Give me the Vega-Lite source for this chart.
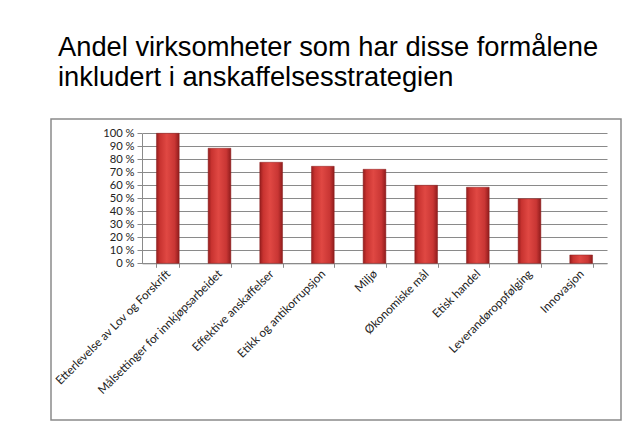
{
  "$schema": "https://vega.github.io/schema/vega-lite/v6.json",
  "width": 570,
  "height": 301,
  "autosize": {"type": "none"},
  "padding": {"left": 51, "top": 119, "right": 4, "bottom": 2},
  "background": "white",
  "title": {
    "text": ["Andel virksomheter som har disse formålene", "inkludert i anskaffelsesstrategien"],
    "font": "Liberation Sans",
    "fontSize": 27.3,
    "fontWeight": "normal",
    "color": "#000000",
    "anchor": "start",
    "frame": "group",
    "dx": 7,
    "lineHeight": 30,
    "offset": 28
  },
  "config": {
    "view": {"stroke": "#8a8a8a", "strokeWidth": 1.5},
    "font": "Lato"
  },
  "data": {
    "values": [
      {"formaal": "Etterlevelse av Lov og Forskrift", "andel": 100},
      {"formaal": "Målsettinger for innkjøpsarbeidet", "andel": 88.5},
      {"formaal": "Effektive anskaffelser", "andel": 77.7},
      {"formaal": "Etikk og antikorrupsjon", "andel": 74.6},
      {"formaal": "Miljø", "andel": 72.3},
      {"formaal": "Økonomiske mål", "andel": 60},
      {"formaal": "Etisk handel", "andel": 58.5},
      {"formaal": "Leverandøroppfølging", "andel": 49.7},
      {"formaal": "Innovasjon", "andel": 6.4}
    ]
  },
  "mark": {
    "type": "bar",
    "color": {
      "gradient": "linear",
      "x1": 0, "x2": 1, "y1": 0, "y2": 0,
      "stops": [
        {"offset": 0, "color": "#951d1d"},
        {"offset": 0.15, "color": "#c83330"},
        {"offset": 0.45, "color": "#e04843"},
        {"offset": 0.8, "color": "#c93634"},
        {"offset": 1, "color": "#901c1c"}
      ]
    },
    "stroke": "#8a1e1e",
    "strokeWidth": 0.5
  },
  "encoding": {
    "x": {
      "field": "formaal",
      "type": "nominal",
      "sort": null,
      "title": null,
      "scale": {"range": [91, 556], "paddingInner": 0.56, "paddingOuter": 0.28},
      "axis": {
        "offset": -156.7,
        "labelAngle": -45,
        "labelAlign": "right",
        "labelBaseline": "middle",
        "labelFontSize": 11.7,
        "labelColor": "#222222",
        "labelPadding": 4,
        "labelLimit": 300,
        "tickBand": "extent",
        "tickSize": 4,
        "tickColor": "#8a8a8a",
        "domainColor": "#8a8a8a",
        "grid": false
      }
    },
    "y": {
      "field": "andel",
      "type": "quantitative",
      "title": null,
      "scale": {"domain": [0, 100], "nice": false, "range": [144.3, 14.3]},
      "axis": {
        "offset": -91,
        "values": [0, 10, 20, 30, 40, 50, 60, 70, 80, 90, 100],
        "labelExpr": "datum.value + ' %'",
        "labelFontSize": 11.2,
        "labelColor": "#222222",
        "labelPadding": 3,
        "tickSize": 5,
        "tickColor": "#8a8a8a",
        "domainColor": "#8a8a8a",
        "grid": true,
        "gridColor": "#8a8a8a",
        "gridWidth": 1
      }
    }
  }
}
